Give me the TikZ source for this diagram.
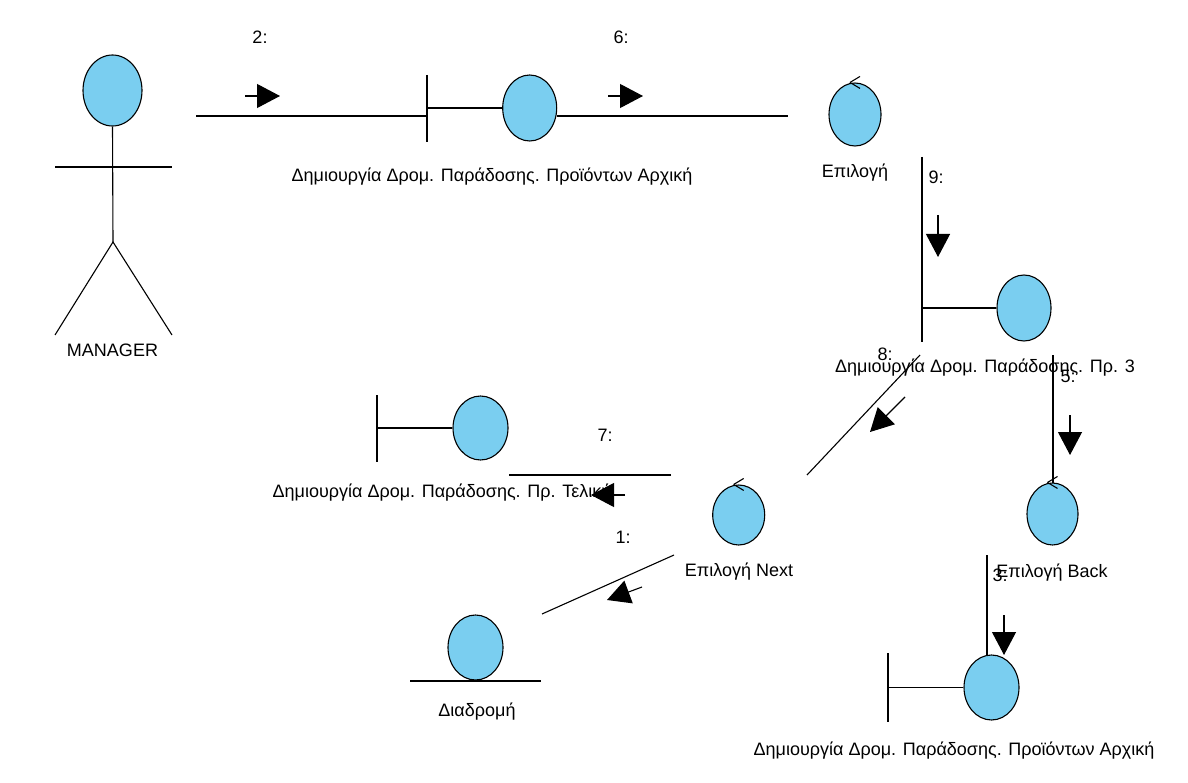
\documentclass[tikz,border=0pt]{standalone}
\usepackage{fontspec}
\setmainfont{Liberation Sans}
\usepackage{xcolor}
\usetikzlibrary{arrows.meta,positioning,shapes.geometric}
\definecolor{vpBlue}{RGB}{122,206,240}
\tikzset{
  obj/.style={ellipse, draw=black, fill=vpBlue, line width=1.1pt, minimum width=54pt, minimum height=66pt, inner sep=0pt},
  link/.style={line width=1.1pt, draw=black},
  msg/.style={-{Triangle[length=23pt,width=24pt]}, line width=1.1pt, draw=black},
  lbl/.style={font=\fontsize{18}{21}\selectfont, inner sep=0pt},
  num/.style={font=\fontsize{18}{21}\selectfont, inner sep=0pt}
}

\begin{document}
\begin{tikzpicture}[x=1pt, y=-1pt]
  \useasboundingbox (0,0) rectangle (1188,783);
  % actor
  \node[obj, minimum width=59pt, minimum height=71pt] (mgr) at (112.5,90.5) {};
  \coordinate (hip) at (113,242);
  \draw[link] (mgr.south) -- (hip);
  \draw[link] (55,167) -- (172,167);
  \draw[link] (55,335) -- (hip) -- (172,335);
  \node[lbl] (mgrname) at (112.5,350) {MANAGER};
  % boundary, top
  \node[obj] (bndA) at (529.7,108) {};
  \coordinate (barA) at (427,108);
  \draw[link] (427,75) -- (427,142);
  \draw[link] (barA) -- (bndA.west);
  \node[lbl] (bndAname) at (492,177) {Δημιουργία Δρομ. Παράδοσης. Προϊόντων Αρχική};
  % control Επιλογή
  \node[obj, minimum width=52pt, minimum height=63pt] (ctrlA) at (855,114.5) {};
  \draw[link] ([xshift=-5pt]ctrlA.north) -- ++(10,-6);
  \draw[link] ([xshift=-5pt]ctrlA.north) -- ++(10,6);
  \node[lbl] (ctrlAname) at (855,173) {Επιλογή};
  % boundary Πρ. 3
  \node[obj] (bndB) at (1024,308) {};
  \coordinate (barB) at (922,308);
  \draw[link] (922,275) -- (922,342);
  \draw[link] (barB) -- (bndB.west);
  \node[lbl] (bndBname) at (985,368) {Δημιουργία Δρομ. Παράδοσης. Πρ. 3};
  % control Back
  \node[obj, minimum width=51pt, minimum height=62pt] (ctrlB) at (1052.5,514) {};
  \draw[link] ([xshift=-5pt]ctrlB.north) -- ++(10,-6);
  \draw[link] ([xshift=-5pt]ctrlB.north) -- ++(10,6);
  \node[lbl] (ctrlBname) at (1052,573) {Επιλογή Back};
  % boundary, bottom right
  \node[obj, minimum width=55pt, minimum height=65pt] (bndC) at (991.5,687.5) {};
  \coordinate (barC) at (888,687.5);
  \draw[link] (888,653) -- (888,722);
  \draw[link] (barC) -- (bndC.west);
  \node[lbl] (bndCname) at (954,751) {Δημιουργία Δρομ. Παράδοσης. Προϊόντων Αρχική};
  % boundary Τελική
  \node[obj, minimum width=55pt, minimum height=64pt] (bndD) at (480.5,428) {};
  \coordinate (barD) at (377,428);
  \draw[link] (377,395) -- (377,462);
  \draw[link] (barD) -- (bndD.west);
  \node[lbl] (bndDname) at (442,493) {Δημιουργία Δρομ. Παράδοσης. Πρ. Τελική};
  % control Next
  \node[obj, minimum width=52pt, minimum height=60pt] (ctrlC) at (738.7,515) {};
  \draw[link] ([xshift=-5pt]ctrlC.north) -- ++(10,-6);
  \draw[link] ([xshift=-5pt]ctrlC.north) -- ++(10,6);
  \node[lbl] (ctrlCname) at (739,572) {Επιλογή Next};
  % entity Διαδρομή
  \node[obj, minimum width=55pt, minimum height=65pt] (ent) at (475.5,647.5) {};
  \draw[link] (410,681) -- (541,681);
  \node[lbl] (entname) at (477,712) {Διαδρομή};

  % link ends
  \coordinate (l2a) at (196,116);  \coordinate (l2b) at (427,116);
  \coordinate (l6a) at (557,116);  \coordinate (l6b) at (788,116);
  \coordinate (l9a) at (922,157);  \coordinate (l9b) at (922,275);
  \coordinate (l8a) at (920,355);  \coordinate (l8b) at (807,475);
  \coordinate (l5a) at (1053,355); \coordinate (l5b) at (1053,483);
  \coordinate (l7a) at (671,475);  \coordinate (l7b) at (509,475);
  \coordinate (l1a) at (674,555);  \coordinate (l1b) at (542,614);
  \coordinate (l3a) at (987,555);  \coordinate (l3b) at (987,655);
  \draw[link] (l2a) -- (l2b);
  \draw[link] (l6a) -- (l6b);
  \draw[link] (l9a) -- (l9b);
  \draw[link] (l8a) -- (l8b);
  \draw[link] (l5a) -- (l5b);
  \draw[link] (l7a) -- (l7b);
  \draw[link] (l1a) -- (l1b);
  \draw[link] (l3a) -- (l3b);

  % messages
  \draw[msg] (245,96) -- (280,96);
  \draw[msg] (608,96) -- (643,96);
  \draw[msg] (938,215) -- (938,257);
  \draw[msg] (905,397) -- (870,432);
  \draw[msg] (1070,415) -- (1070,455);
  \draw[msg] (625,495) -- (591,495);
  \draw[msg] (642,587) -- (607,600);
  \draw[msg] (1004,615) -- (1004,655);
  \node[num] (m2) at (260,37) {2:};
  \node[num] (m6) at (621,37) {6:};
  \node[num] (m9) at (936,177) {9:};
  \node[num] (m8) at (885,354) {8:};
  \node[num] (m5) at (1068,376) {5:};
  \node[num] (m7) at (605,435) {7:};
  \node[num] (m1) at (623,537) {1:};
  \node[num] (m3) at (1000,575) {3:};
\end{tikzpicture}
\end{document}
